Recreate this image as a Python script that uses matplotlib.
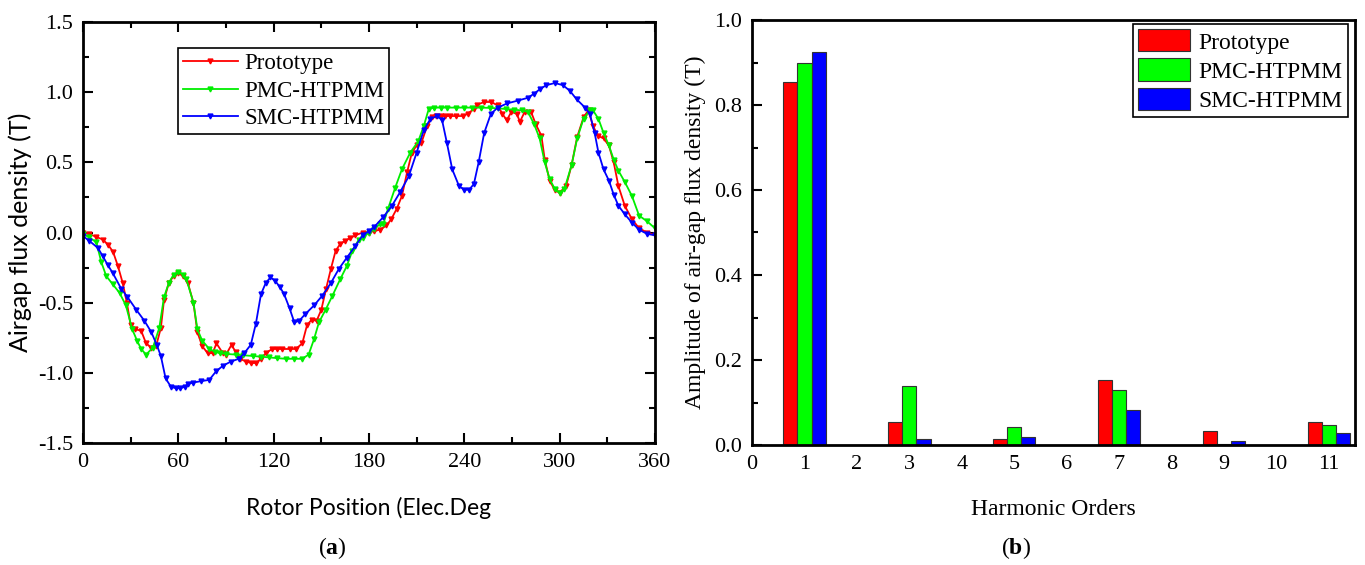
import numpy as np
import matplotlib
matplotlib.use("Agg")
from matplotlib import pyplot as plt
from matplotlib.ticker import MultipleLocator, FormatStrFormatter

# (a) airgap flux density vs rotor position, (deg, T)
prototype = [
    (0, 0.0), (4, -0.01), (8, -0.03), (12.5, -0.05), (16, -0.09), (19, -0.14),
    (22, -0.24), (25, -0.36), (27.6, -0.50), (30, -0.66), (33, -0.69), (36.6, -0.70),
    (39.7, -0.79), (43, -0.82), (46, -0.81), (49, -0.68), (51, -0.48), (54, -0.36),
    (57, -0.31), (60, -0.29), (63, -0.31), (66, -0.36), (69.5, -0.50), (72, -0.71),
    (75, -0.81), (78.5, -0.86), (81.6, -0.86), (84, -0.79), (88, -0.86), (90, -0.87),
    (93.5, -0.80), (96, -0.85), (99, -0.90), (102.5, -0.92), (106, -0.93), (109, -0.93),
    (112, -0.90), (115, -0.86), (119, -0.83), (122, -0.83), (125.5, -0.83), (130, -0.83),
    (134, -0.83), (138, -0.79), (141, -0.66), (144, -0.62), (147, -0.63), (150, -0.55),
    (153, -0.40), (156, -0.26), (159, -0.13), (162, -0.08), (165, -0.06), (168, -0.04),
    (171.5, -0.02), (176, 0.0), (180, 0.0), (183, 0.01), (187, 0.02), (191, 0.05),
    (194, 0.095), (197.5, 0.17), (200.7, 0.26), (204, 0.43), (207, 0.57), (210, 0.62),
    (213, 0.64), (216.6, 0.76), (219.7, 0.82), (222, 0.83), (225, 0.83), (228, 0.83),
    (231, 0.83), (235, 0.83), (239, 0.83), (242, 0.845), (246, 0.88), (248, 0.91),
    (252.5, 0.93), (257, 0.93), (261, 0.905), (264, 0.845), (266.7, 0.80), (269.6, 0.86),
    (273, 0.845), (275, 0.79), (278, 0.86), (282, 0.86), (285, 0.77), (288.5, 0.69),
    (290.6, 0.52), (293.7, 0.37), (297, 0.30), (300, 0.285), (304, 0.33), (307.5, 0.48),
    (311, 0.68), (315, 0.82), (318, 0.87), (321, 0.76), (324, 0.69), (327.6, 0.67),
    (331, 0.62), (334, 0.50), (337, 0.33), (341, 0.19), (345.5, 0.095), (350, 0.03),
    (355, 0.0), (360, -0.02),
]
pmc = [
    (0, -0.01), (4, -0.035), (8.4, -0.07), (11.5, -0.21), (14.6, -0.31), (18.8, -0.37),
    (23, -0.43), (27, -0.52), (31, -0.69), (34, -0.77), (36.6, -0.83), (39.7, -0.87),
    (44, -0.82), (48, -0.68), (51, -0.46), (54, -0.36), (57, -0.30), (60, -0.28),
    (63, -0.30), (65, -0.33), (69.5, -0.50), (72, -0.69), (75, -0.77), (79.5, -0.83),
    (83, -0.85), (86, -0.86), (90, -0.865), (96, -0.87), (101, -0.875), (107, -0.88),
    (112, -0.885), (117, -0.89), (122, -0.895), (127.6, -0.90), (133, -0.90), (138, -0.90),
    (142, -0.87), (145.4, -0.76), (148.5, -0.64), (152.7, -0.55), (157, -0.45), (162, -0.33),
    (166, -0.24), (169.5, -0.13), (173.6, -0.05), (176.4, -0.036), (180, 0.0), (183, 0.024),
    (187, 0.06), (189, 0.06), (192, 0.17), (196.5, 0.32), (200.7, 0.45), (206, 0.57),
    (211, 0.65), (214.5, 0.76), (217.6, 0.88), (221, 0.89), (225, 0.89), (229, 0.89),
    (235, 0.89), (240, 0.89), (245, 0.89), (250.4, 0.89), (256, 0.888), (261, 0.885),
    (266, 0.88), (271.5, 0.875), (276, 0.87), (280, 0.86), (284, 0.77), (287.4, 0.67),
    (290.6, 0.50), (293.7, 0.38), (297, 0.31), (300, 0.28), (303, 0.31), (307.5, 0.48),
    (311, 0.67), (315, 0.81), (319, 0.87), (321, 0.87), (324.4, 0.81), (327.6, 0.71),
    (331, 0.62), (334, 0.52), (337, 0.44), (341, 0.36), (345.5, 0.26), (350, 0.12),
    (355, 0.08), (360, 0.03),
]
smc = [
    (0, -0.025), (4, -0.06), (9.4, -0.11), (12.5, -0.17), (15.5, -0.23), (18.8, -0.29),
    (24, -0.40), (28, -0.46), (33.5, -0.55), (38.7, -0.63), (43, -0.71), (46.4, -0.80),
    (49, -0.88), (52, -1.04), (55.4, -1.10), (58.6, -1.11), (61, -1.11), (64, -1.10),
    (66, -1.08), (69, -1.07), (74, -1.06), (79.5, -1.05), (83.7, -0.99), (88, -0.95),
    (93, -0.92), (98, -0.90), (101.5, -0.86), (105.6, -0.80), (108.8, -0.65), (112, -0.44),
    (115, -0.36), (118, -0.32), (121, -0.345), (124, -0.39), (126.6, -0.44), (130, -0.54),
    (133, -0.64), (136, -0.63), (140, -0.58), (145.4, -0.52), (150.6, -0.45), (156, -0.36),
    (161, -0.26), (166, -0.18), (171.5, -0.095), (176, -0.02), (180, 0.01), (183, 0.036),
    (189, 0.11), (194.4, 0.19), (199.7, 0.29), (205, 0.40), (210, 0.57), (214.5, 0.73),
    (218.7, 0.81), (223, 0.83), (226, 0.80), (229, 0.64), (232.4, 0.45), (236.7, 0.33),
    (240, 0.305), (243, 0.305), (246, 0.345), (249, 0.50), (252.5, 0.71), (256.7, 0.845),
    (261, 0.89), (267, 0.92), (273.7, 0.94), (280, 0.96), (284, 0.99), (287.4, 1.02),
    (291.6, 1.05), (297, 1.065), (302, 1.05), (306.4, 1.01), (310.6, 0.95), (316, 0.89),
    (319, 0.845), (322, 0.71), (324.4, 0.57), (327.6, 0.45), (331, 0.37), (334, 0.27),
    (337, 0.19), (341, 0.13), (345.5, 0.07), (350, 0.02), (355, -0.01), (360, -0.02),
]

# (b) harmonic amplitudes
orders = [1, 3, 5, 7, 9, 11]
amp_prototype = [0.854, 0.053, 0.014, 0.152, 0.034, 0.055]
amp_pmc = [0.898, 0.140, 0.042, 0.130, 0.003, 0.048]
amp_smc = [0.925, 0.013, 0.019, 0.083, 0.009, 0.028]

names = ["Prototype", "PMC-HTPMM", "SMC-HTPMM"]
line_colors = ["#ff0000", "#00ee00", "#0000ff"]
bar_colors = ["#ff0000", "#00ff00", "#0000ff"]

W, H = 1365, 565
plt.rcParams["font.family"] = ["Liberation Serif", "DejaVu Serif"]
plt.rcParams["axes.unicode_minus"] = False
plt.rcParams["mathtext.fontset"] = "custom"
plt.rcParams["mathtext.bf"] = "Liberation Serif:bold"

fig = plt.figure(figsize=(W / 100, H / 100), dpi=100)


def px_axes(left, top, right, bottom):
    return fig.add_axes([left / W, 1 - bottom / H, (right - left) / W, (bottom - top) / H])


def style(ax):
    for s in ax.spines.values():
        s.set_linewidth(2)
    ax.tick_params(which="both", direction="in", width=1.5, labelsize=16, pad=7)
    ax.tick_params(which="major", length=7)
    ax.tick_params(which="minor", length=4)


# ---- (a)
ax1 = px_axes(83, 22, 655, 443)
for data, name, c in zip([prototype, pmc, smc], names, line_colors):
    x, y = zip(*data)
    ax1.plot(x, y, color=c, lw=1.3, marker="v", ms=3.5, label=name)
ax1.set_xlim(0, 360)
ax1.set_ylim(-1.5, 1.5)
ax1.xaxis.set_major_locator(MultipleLocator(60))
ax1.xaxis.set_minor_locator(MultipleLocator(30))
ax1.yaxis.set_major_locator(MultipleLocator(0.5))
ax1.yaxis.set_minor_locator(MultipleLocator(0.25))
ax1.yaxis.set_major_formatter(FormatStrFormatter("%.1f"))
style(ax1)
ax1.tick_params(which="both", top=True, right=True)
ax1.set_xlabel("Rotor Position (Elec.Deg", family="Lato", fontsize=16.5, labelpad=18)
ax1.set_ylabel("Airgap flux density (T)", family="Lato", fontsize=18, labelpad=4)
leg1 = ax1.legend(loc="upper left", bbox_to_anchor=(178 / W, 1 - 48 / H),
                  bbox_transform=fig.transFigure, borderaxespad=0, fancybox=False,
                  edgecolor="black", fontsize=16.5, handlelength=2.4, handletextpad=0.3,
                  borderpad=0.2, labelspacing=0.3, framealpha=1)
leg1.get_frame().set_linewidth(1.2)

# ---- (b)
ax2 = px_axes(752, 20, 1355, 445)
o = np.array(orders)
w = 0.27
for off, vals, name, c in zip([-w, 0, w], [amp_prototype, amp_pmc, amp_smc], names, bar_colors):
    ax2.bar(o + off, vals, width=w, color=c, edgecolor="#333333", lw=0.8, label=name)
ax2.set_xlim(0, 11.5)
ax2.set_ylim(0, 1.0)
ax2.set_xticks(range(0, 12))
ax2.yaxis.set_major_locator(MultipleLocator(0.2))
ax2.yaxis.set_minor_locator(MultipleLocator(0.1))
ax2.yaxis.set_major_formatter(FormatStrFormatter("%.1f"))
style(ax2)
ax2.tick_params(axis="x", which="both", length=0)
ax2.set_xlabel("Harmonic Orders", fontsize=17, labelpad=18)
ax2.set_ylabel("Amplitude of air-gap flux density (T)", fontsize=17, labelpad=6)
leg2 = ax2.legend(loc="upper right", bbox_to_anchor=(1348 / W, 1 - 24 / H),
                  bbox_transform=fig.transFigure, borderaxespad=0, fancybox=False,
                  edgecolor="black", fontsize=17, handlelength=2.2, handleheight=1.06,
                  borderpad=0.23, labelspacing=0.21, handletextpad=0.34, framealpha=1)
leg2.get_frame().set_linewidth(1.2)

fig.text(332 / W, 1 - 548 / H, r"($\mathbf{a}$)", ha="center", va="center", fontsize=17)
fig.text(1016 / W, 1 - 548 / H, r"($\mathbf{b}$)", ha="center", va="center", fontsize=17)

fig.savefig("out.png", dpi=100)
